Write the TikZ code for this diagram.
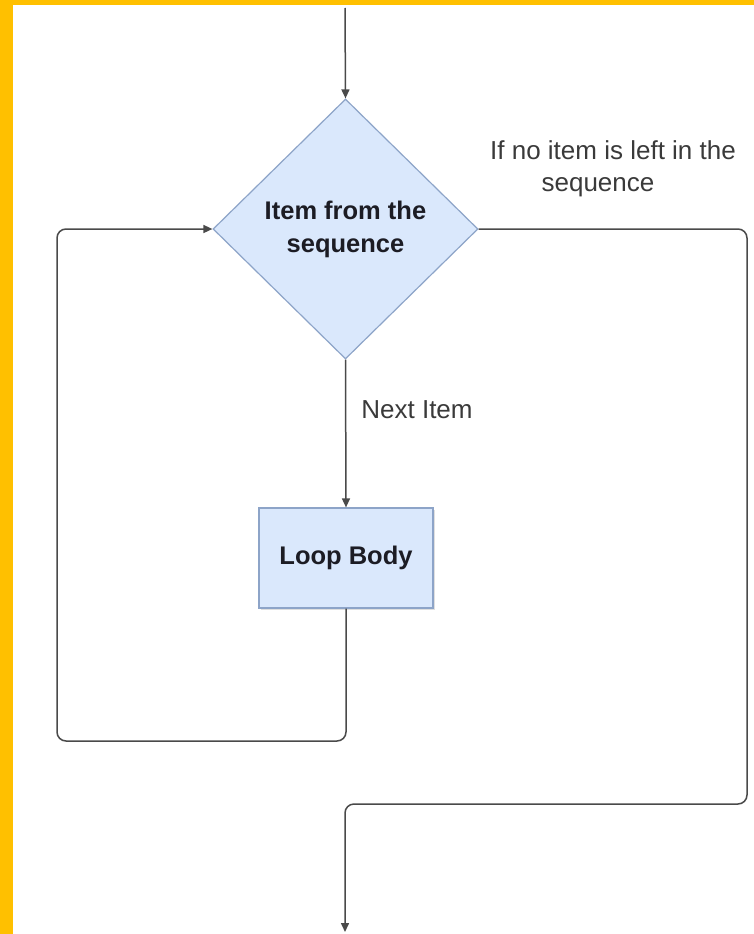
\documentclass[tikz,border=0pt]{standalone}
\usepackage{fontspec}
\setmainfont{Liberation Sans}
\usetikzlibrary{shapes.geometric,arrows.meta,shadows}
\definecolor{boxfill}{HTML}{DAE8FC}
\definecolor{boxline}{HTML}{8DA4C8}
\definecolor{wire}{HTML}{4A4A4A}
\definecolor{frameyellow}{HTML}{FFC000}
\definecolor{txt}{HTML}{1C1C24}
\definecolor{lbl}{HTML}{3A3A3A}
\tikzset{
  decbox/.style={diamond, draw=boxline, fill=boxfill, line width=1.2pt,
    minimum width=265pt, minimum height=260pt, inner sep=0pt,
    align=center, text=txt, font=\fontsize{25.5}{33}\selectfont\bfseries},
  bodybox/.style={rectangle, draw=boxline, fill=boxfill, line width=1.2pt,
    minimum width=174pt, minimum height=100pt, inner sep=0pt,
    text=txt, font=\fontsize{25.5}{33}\selectfont\bfseries,
    drop shadow={shadow xshift=2pt, shadow yshift=-2pt, opacity=0.25}},
  lbltext/.style={align=center, text=lbl, inner sep=0pt,
    font=\fontsize{26}{32}\selectfont},
  wireline/.style={draw=wire, line width=1.5pt, rounded corners=9pt},
  arr/.style={wireline, -{Triangle[length=9pt, width=8pt]}}
}
\begin{document}
\begin{tikzpicture}[x=1pt, y=-1pt]
  \useasboundingbox (0,0) rectangle (754,934);
  \fill[white] (0,0) rectangle (754,934);
  \fill[frameyellow] (0,0) rectangle (13,934);
  \fill[frameyellow] (0,0) rectangle (754,5);

  \node[decbox] (d) at (345.5,229) {Item from the\\sequence};
  \node[bodybox] (body) at (346,558) {Loop Body};

  \coordinate (start) at (345,8);
  \coordinate (lb) at (57,741);
  \coordinate (rr) at (747,804);
  \coordinate (end) at (345,932);

  \node[lbltext] (nlabel) at (417,410) {Next Item};
  \node[lbltext] (ylabel) at (613,169) {If no item is left in the\\\hspace*{-30pt}sequence};

  \draw[arr] (start) -- (d.north);
  \draw[arr] (d.south) -- (body.north);
  \draw[arr] (body.south) |- (lb) |- (d.west);
  \draw[arr] (d.east) -| (rr) -| (end);
\end{tikzpicture}
\end{document}
